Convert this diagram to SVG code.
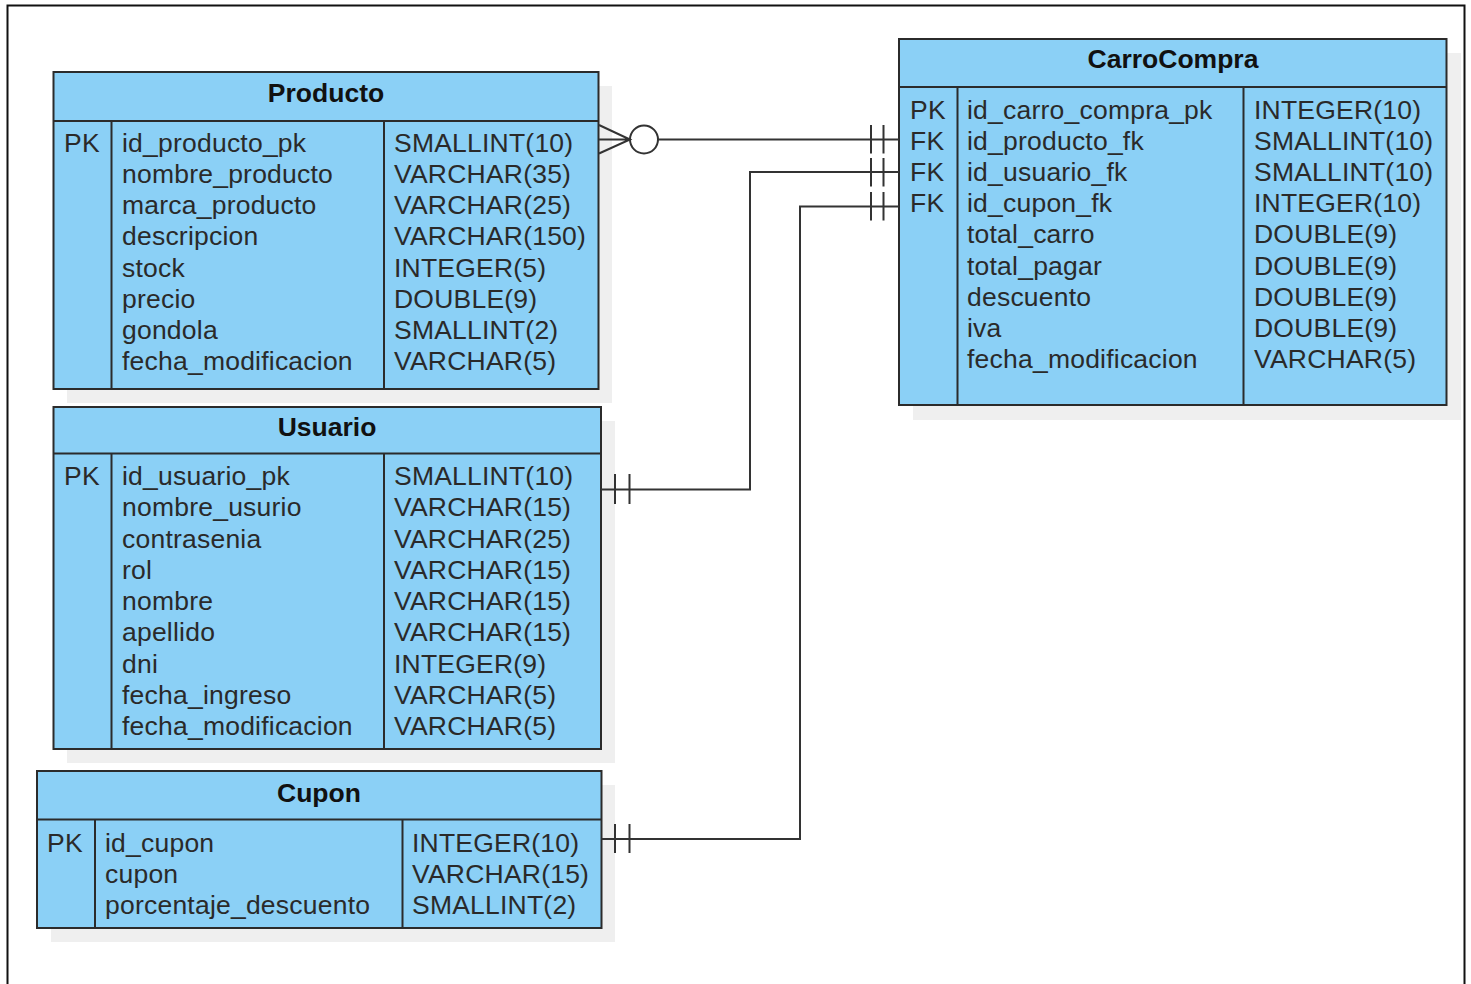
<svg xmlns="http://www.w3.org/2000/svg" width="1471" height="984" viewBox="0 0 1471 984">
  <style>
    .shadow { fill: #efefef; }
    .box { fill: #8bd0f6; stroke: #2b2b2b; stroke-width: 2; }
    .div { stroke: #2b2b2b; stroke-width: 2; fill: none; }
    .title { font-family: "Liberation Sans", Arial, sans-serif; font-size: 26.5px; font-weight: bold; fill: #111; text-anchor: middle; }
    .row { font-family: "Liberation Sans", Arial, sans-serif; font-size: 26.5px; letter-spacing: 0.22px; fill: #2a2a2a; }
    .conn { stroke: #333; stroke-width: 2; fill: none; }
  </style>

  <!-- page frame -->
  <rect x="7.5" y="5.5" width="1457" height="1010" fill="#fff" stroke="#111" stroke-width="2"/>

  <!-- Producto -->
  <g id="producto">
    <rect class="shadow" x="67" y="86" width="545" height="317"/>
    <rect class="box" x="53.5" y="72" width="545" height="317"/>
    <path class="div" d="M53.5 121H598.5M111.5 121V389M384 121V389"/>
    <text class="title" x="326" y="102">Producto</text>
    <text class="row" x="64" y="152">PK</text>
    <text class="row"><tspan x="122" y="152">id_producto_pk</tspan><tspan x="122" dy="31.15">nombre_producto</tspan><tspan x="122" dy="31.15">marca_producto</tspan><tspan x="122" dy="31.15">descripcion</tspan><tspan x="122" dy="31.15">stock</tspan><tspan x="122" dy="31.15">precio</tspan><tspan x="122" dy="31.15">gondola</tspan><tspan x="122" dy="31.15">fecha_modificacion</tspan></text>
    <text class="row"><tspan x="394" y="152">SMALLINT(10)</tspan><tspan x="394" dy="31.15">VARCHAR(35)</tspan><tspan x="394" dy="31.15">VARCHAR(25)</tspan><tspan x="394" dy="31.15">VARCHAR(150)</tspan><tspan x="394" dy="31.15">INTEGER(5)</tspan><tspan x="394" dy="31.15">DOUBLE(9)</tspan><tspan x="394" dy="31.15">SMALLINT(2)</tspan><tspan x="394" dy="31.15">VARCHAR(5)</tspan></text>
  </g>

  <!-- Usuario -->
  <g id="usuario">
    <rect class="shadow" x="67" y="421" width="548" height="342"/>
    <rect class="box" x="53.5" y="407" width="547.5" height="342"/>
    <path class="div" d="M53.5 453.5H601M111.5 453.5V749M384 453.5V749"/>
    <text class="title" x="327" y="436">Usuario</text>
    <text class="row" x="64" y="485">PK</text>
    <text class="row"><tspan x="122" y="485">id_usuario_pk</tspan><tspan x="122" dy="31.25">nombre_usurio</tspan><tspan x="122" dy="31.25">contrasenia</tspan><tspan x="122" dy="31.25">rol</tspan><tspan x="122" dy="31.25">nombre</tspan><tspan x="122" dy="31.25">apellido</tspan><tspan x="122" dy="31.25">dni</tspan><tspan x="122" dy="31.25">fecha_ingreso</tspan><tspan x="122" dy="31.25">fecha_modificacion</tspan></text>
    <text class="row"><tspan x="394" y="485">SMALLINT(10)</tspan><tspan x="394" dy="31.25">VARCHAR(15)</tspan><tspan x="394" dy="31.25">VARCHAR(25)</tspan><tspan x="394" dy="31.25">VARCHAR(15)</tspan><tspan x="394" dy="31.25">VARCHAR(15)</tspan><tspan x="394" dy="31.25">VARCHAR(15)</tspan><tspan x="394" dy="31.25">INTEGER(9)</tspan><tspan x="394" dy="31.25">VARCHAR(5)</tspan><tspan x="394" dy="31.25">VARCHAR(5)</tspan></text>
  </g>

  <!-- Cupon -->
  <g id="cupon">
    <rect class="shadow" x="51" y="785" width="564" height="157"/>
    <rect class="box" x="37" y="771" width="564.5" height="157"/>
    <path class="div" d="M37 819.5H601.5M95 819.5V928M402.5 819.5V928"/>
    <text class="title" x="319" y="802">Cupon</text>
    <text class="row" x="47" y="852">PK</text>
    <text class="row"><tspan x="105" y="852">id_cupon</tspan><tspan x="105" dy="31">cupon</tspan><tspan x="105" dy="31">porcentaje_descuento</tspan></text>
    <text class="row"><tspan x="412" y="852">INTEGER(10)</tspan><tspan x="412" dy="31">VARCHAR(15)</tspan><tspan x="412" dy="31">SMALLINT(2)</tspan></text>
  </g>

  <!-- CarroCompra -->
  <g id="carrocompra">
    <rect class="shadow" x="913" y="53" width="548" height="367"/>
    <rect class="box" x="899" y="39" width="547.5" height="366"/>
    <path class="div" d="M899 87H1446.5M957.5 87V405M1243.5 87V405"/>
    <text class="title" x="1173" y="68">CarroCompra</text>
    <text class="row"><tspan x="910" y="118.5">PK</tspan><tspan x="910" dy="31.2">FK</tspan><tspan x="910" dy="31.2">FK</tspan><tspan x="910" dy="31.2">FK</tspan></text>
    <text class="row"><tspan x="967" y="118.5">id_carro_compra_pk</tspan><tspan x="967" dy="31.2">id_producto_fk</tspan><tspan x="967" dy="31.2">id_usuario_fk</tspan><tspan x="967" dy="31.2">id_cupon_fk</tspan><tspan x="967" dy="31.2">total_carro</tspan><tspan x="967" dy="31.2">total_pagar</tspan><tspan x="967" dy="31.2">descuento</tspan><tspan x="967" dy="31.2">iva</tspan><tspan x="967" dy="31.2">fecha_modificacion</tspan></text>
    <text class="row"><tspan x="1254" y="118.5">INTEGER(10)</tspan><tspan x="1254" dy="31.2">SMALLINT(10)</tspan><tspan x="1254" dy="31.2">SMALLINT(10)</tspan><tspan x="1254" dy="31.2">INTEGER(10)</tspan><tspan x="1254" dy="31.2">DOUBLE(9)</tspan><tspan x="1254" dy="31.2">DOUBLE(9)</tspan><tspan x="1254" dy="31.2">DOUBLE(9)</tspan><tspan x="1254" dy="31.2">DOUBLE(9)</tspan><tspan x="1254" dy="31.2">VARCHAR(5)</tspan></text>
  </g>

  <!-- relationships -->
  <g id="connectors">
    <!-- Producto (zero-or-many) to CarroCompra.id_producto_fk (one-and-only-one) -->
    <path class="conn" d="M599 139.5H630M599 125L630 139.5L599 153.5M658 139.5H899"/>
    <circle class="conn" cx="644" cy="139.5" r="14" fill="#fff"/>
    <path class="conn" d="M871 125V153.5M883.5 125V153.5"/>

    <!-- Usuario to CarroCompra.id_usuario_fk -->
    <path class="conn" d="M601 489.5H750V172H899"/>
    <path class="conn" d="M615 474V504M629.5 474V504M871 158V186.5M883.5 158V186.5"/>

    <!-- Cupon to CarroCompra.id_cupon_fk -->
    <path class="conn" d="M601.5 839H800V206.5H899"/>
    <path class="conn" d="M615 824V853M629.5 824V853M871 192V220.5M883.5 192V220.5"/>
  </g>
</svg>
